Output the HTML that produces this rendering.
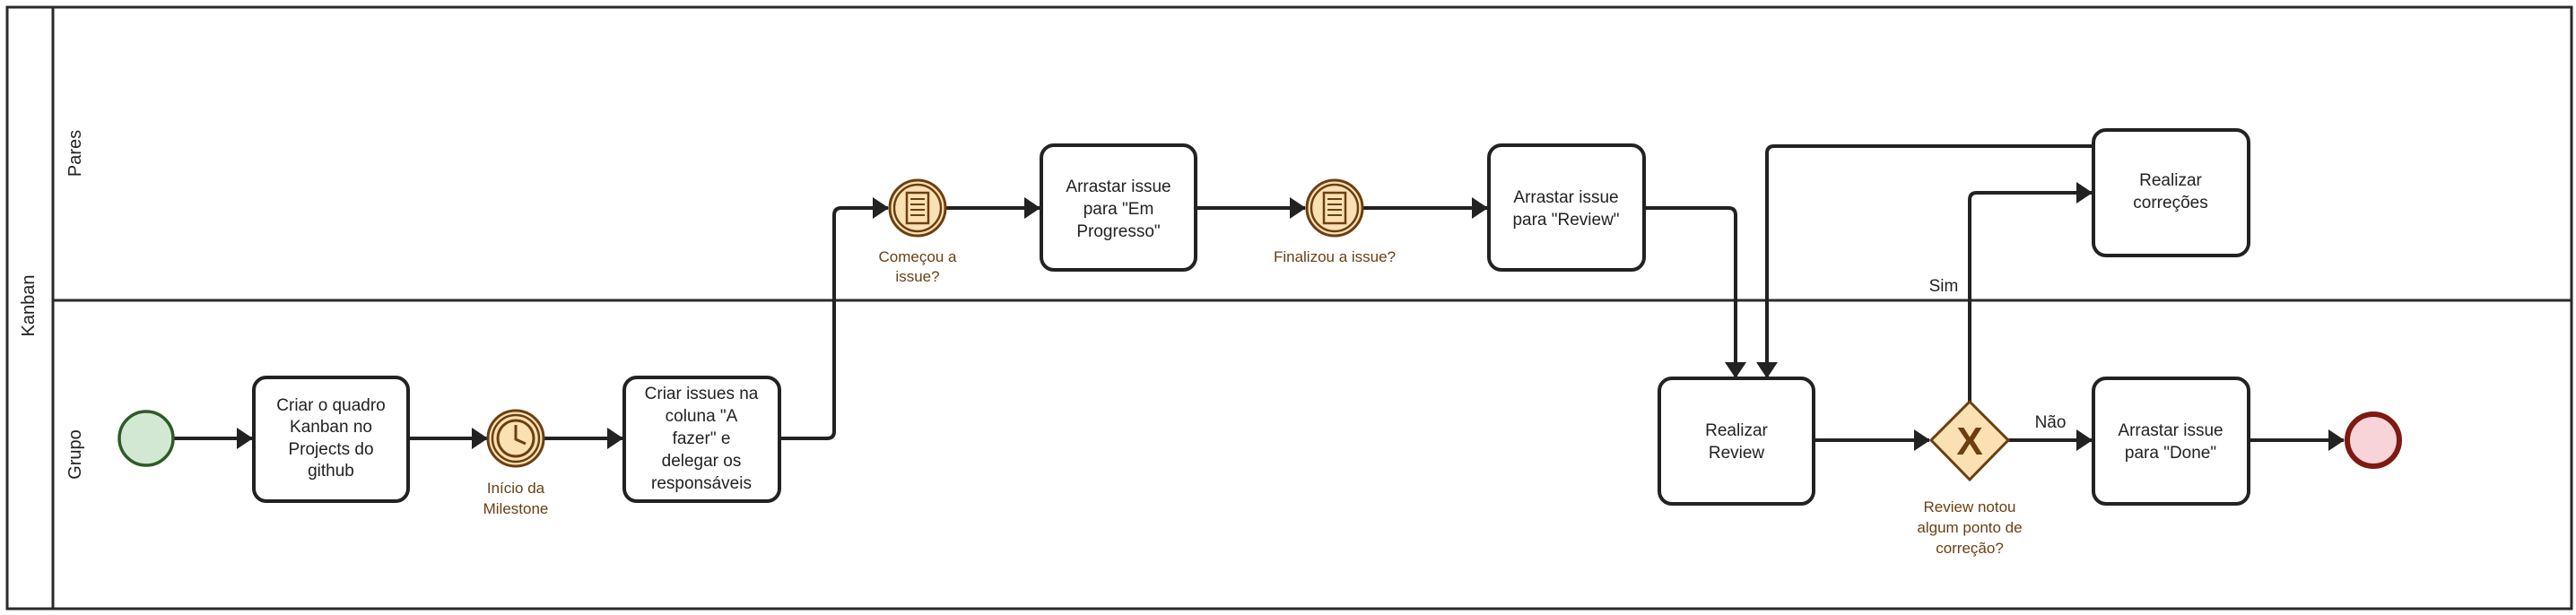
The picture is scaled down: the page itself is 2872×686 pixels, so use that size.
<!DOCTYPE html>
<html><head><meta charset="utf-8"><style>
html,body{margin:0;padding:0;background:#fff;}
svg{display:block;}
text{font-family:"Liberation Sans",sans-serif;}
</style></head><body>
<svg width="2872" height="686" viewBox="0 0 2872 686" xmlns="http://www.w3.org/2000/svg">
<defs>
<marker id="a" markerWidth="18" markerHeight="24" refX="17" refY="12" orient="auto" markerUnits="userSpaceOnUse">
<path d="M0,0 L18,12 L0,24 Z" fill="#222"/>
</marker>
</defs>
<rect x="8" y="8" width="2859" height="671" fill="#fff" stroke="#2a2a2a" stroke-width="3"/>
<line x1="59" y1="8" x2="59" y2="679" stroke="#2a2a2a" stroke-width="3"/>
<line x1="59" y1="335" x2="2867" y2="335" stroke="#2a2a2a" stroke-width="3"/>
<text transform="translate(38,341) rotate(-90)" text-anchor="middle" font-size="20" fill="#222">Kanban</text>
<text transform="translate(90,171) rotate(-90)" text-anchor="middle" font-size="20" fill="#222">Pares</text>
<text transform="translate(90,507) rotate(-90)" text-anchor="middle" font-size="20" fill="#222">Grupo</text>

<g fill="none" stroke="#222" stroke-width="4">
<path d="M194,489 H281" marker-end="url(#a)"/>
<path d="M455,489 H543" marker-end="url(#a)"/>
<path d="M607,489 H694" marker-end="url(#a)"/>
<path d="M869,489 H922 Q930,489 930,481 V240 Q930,232 938,232 H990" marker-end="url(#a)"/>
<path d="M1054,232 H1159" marker-end="url(#a)"/>
<path d="M1333,232 H1455" marker-end="url(#a)"/>
<path d="M1519,232 H1658" marker-end="url(#a)"/>
<path d="M1833,232 H1927 Q1935,232 1935,240 V421" marker-end="url(#a)"/>
<path d="M2334,163 H1978 Q1970,163 1970,171 V421" marker-end="url(#a)"/>
<path d="M2022,491 H2151" marker-end="url(#a)"/>
<path d="M2196,448 V223 Q2196,215 2204,215 H2332" marker-end="url(#a)"/>
<path d="M2239,491 H2332" marker-end="url(#a)"/>
<path d="M2507,491 H2613" marker-end="url(#a)"/>
</g>

<g fill="#fff" stroke="#222" stroke-width="4">
<rect x="283" y="421" width="172" height="138" rx="14"/>
<rect x="696" y="421" width="173" height="138" rx="14"/>
<rect x="1161" y="162" width="172" height="139" rx="14"/>
<rect x="1660" y="162" width="173" height="139" rx="14"/>
<rect x="2334" y="145" width="173" height="140" rx="14"/>
<rect x="1850" y="422" width="172" height="140" rx="14"/>
<rect x="2334" y="422" width="173" height="140" rx="14"/>
</g>
<g font-size="19" fill="#222" text-anchor="middle">
<text x="369" y="458">Criar o quadro</text>
<text x="369" y="482">Kanban no</text>
<text x="369" y="507">Projects do</text>
<text x="369" y="531">github</text>
<text x="782" y="445">Criar issues na</text>
<text x="782" y="470">coluna "A</text>
<text x="782" y="495">fazer" e</text>
<text x="782" y="520">delegar os</text>
<text x="782" y="545">responsáveis</text>
<text x="1247" y="214">Arrastar issue</text>
<text x="1247" y="239">para "Em</text>
<text x="1247" y="264">Progresso"</text>
<text x="1746" y="226">Arrastar issue</text>
<text x="1746" y="251">para "Review"</text>
<text x="2420" y="207">Realizar</text>
<text x="2420" y="232">correções</text>
<text x="1936" y="486">Realizar</text>
<text x="1936" y="511">Review</text>
<text x="2420" y="486">Arrastar issue</text>
<text x="2420" y="511">para "Done"</text>
<text x="2167" y="325">Sim</text>
<text x="2286" y="477">Não</text>
</g>

<circle cx="163" cy="489" r="30" fill="#d2e8d2" stroke="#2e5a27" stroke-width="3.5"/>
<circle cx="2646" cy="491" r="29" fill="#f8d3d8" stroke="#7d1b12" stroke-width="6"/>

<g stroke="#6b3f10" fill="#fbe0b3">
<circle cx="575" cy="489" r="31" stroke-width="3"/>
<circle cx="575" cy="489" r="26" stroke-width="2.5"/>
<circle cx="575" cy="489" r="20" stroke-width="3"/>
<path d="M575,474 V490 L586,495" fill="none" stroke-width="3"/>
</g>
<g stroke="#6b3f10" fill="#fbe0b3">
<circle cx="1023" cy="232" r="31" stroke-width="3"/>
<circle cx="1023" cy="232" r="26" stroke-width="2.5"/>
<rect x="1011" y="215" width="24" height="34" stroke-width="2.5"/>
<path d="M1015,222 H1031 M1015,228 H1031 M1015,234 H1031 M1015,240 H1031" stroke-width="2"/>
<circle cx="1488" cy="232" r="31" stroke-width="3"/>
<circle cx="1488" cy="232" r="26" stroke-width="2.5"/>
<rect x="1476" y="215" width="24" height="34" stroke-width="2.5"/>
<path d="M1480,222 H1496 M1480,228 H1496 M1480,234 H1496 M1480,240 H1496" stroke-width="2"/>
</g>
<path d="M2196,448 L2239,491 L2196,535 L2153,491 Z" fill="#fbe0b3" stroke="#6b3f10" stroke-width="3"/>
<text x="2196" y="507" text-anchor="middle" font-size="44" font-weight="bold" fill="#6b3f10">X</text>

<g font-size="17" fill="#6b3f10" text-anchor="middle">
<text x="575" y="550">Início da</text>
<text x="575" y="573">Milestone</text>
<text x="1023" y="292">Começou a</text>
<text x="1023" y="314">issue?</text>
<text x="1488" y="292">Finalizou a issue?</text>
<text x="2196" y="571">Review notou</text>
<text x="2196" y="594">algum ponto de</text>
<text x="2196" y="617">correção?</text>
</g>
</svg>
</body></html>
